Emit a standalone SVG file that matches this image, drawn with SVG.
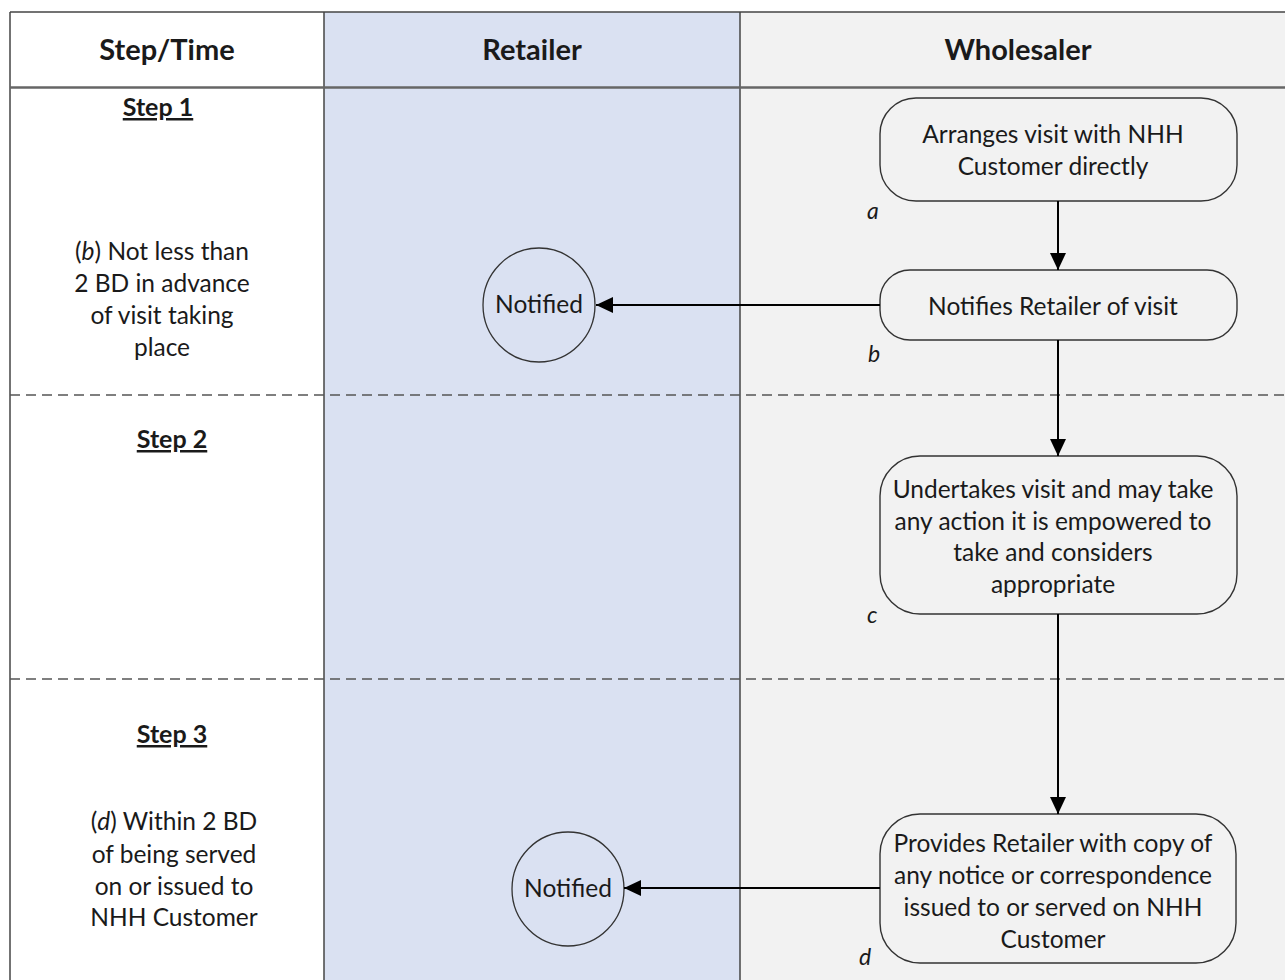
<svg xmlns="http://www.w3.org/2000/svg" width="1285" height="980" viewBox="0 0 1285 980">
<defs>
<marker id="arr" viewBox="0 0 17 16" refX="17" refY="8" markerWidth="17" markerHeight="16" markerUnits="userSpaceOnUse" orient="auto">
<path d="M0,0 L17,8 L0,16 z" fill="#000"/>
</marker>
<style>
text{font-family:Lato,"Liberation Sans",sans-serif;fill:#1a1a1a;}
.hd{font-size:29px;font-weight:bold;text-anchor:middle;}
.st{font-size:25px;font-weight:bold;text-anchor:middle;text-decoration:underline;}
.tx{font-size:24.5px;text-anchor:middle;}
.lb{font-size:23px;font-style:italic;}
.box{fill:#f2f2f2;stroke:#333;stroke-width:1.4;}
.circ{fill:#dae1f2;stroke:#333;stroke-width:1.3;}
.grid{stroke:#444;stroke-width:1.5;fill:none;}
.dash{stroke:#555;stroke-width:1.5;stroke-dasharray:10 6;fill:none;}
.con{stroke:#000;stroke-width:2;fill:none;marker-end:url(#arr);}
</style>
</defs>
<rect x="0" y="0" width="1285" height="980" fill="#fff"/>
<g id="lanes">
<rect x="10" y="12" width="314" height="968" fill="#fff"/>
<rect x="324" y="12" width="416" height="968" fill="#dae1f2"/>
<rect x="740" y="12" width="545" height="968" fill="#f2f2f2"/>
<line class="grid" x1="10" y1="12" x2="1285" y2="12"/>
<line class="grid" x1="10" y1="12" x2="10" y2="980"/>
<line class="grid" x1="324" y1="12" x2="324" y2="980"/>
<line class="grid" x1="740" y1="12" x2="740" y2="980"/>
<line x1="10" y1="87.5" x2="1285" y2="87.5" stroke="#666" stroke-width="2.5"/>
<line class="dash" x1="10" y1="395" x2="1285" y2="395"/>
<line class="dash" x1="10" y1="679" x2="1285" y2="679"/>
<text class="hd" x="167" y="60">Step/Time</text>
<text class="hd" x="532" y="60">Retailer</text>
<text class="hd" x="1018" y="60">Wholesaler</text>
</g>
<g id="steps">
<text class="st" x="158" y="116">Step 1</text>
<text class="tx" x="162" y="260">(<tspan font-style="italic">b</tspan>) Not less than</text>
<text class="tx" x="162" y="292">2 BD in advance</text>
<text class="tx" x="162" y="324">of visit taking</text>
<text class="tx" x="162" y="356">place</text>
<text class="st" x="172" y="448">Step 2</text>
<text class="st" x="172" y="743">Step 3</text>
<text class="tx" x="174" y="830">(<tspan font-style="italic">d</tspan>) Within 2 BD</text>
<text class="tx" x="174" y="863">of being served</text>
<text class="tx" x="174" y="895">on or issued to</text>
<text class="tx" x="174" y="926">NHH Customer</text>
</g>
<g id="node-a">
<rect class="box" x="880" y="98" width="357" height="103" rx="36" ry="36"/>
<text class="tx" x="1053" y="143">Arranges visit with NHH</text>
<text class="tx" x="1053" y="175">Customer directly</text>
<text class="lb" x="867" y="219">a</text>
</g>
<g id="node-b">
<rect class="box" x="880" y="270" width="357" height="70" rx="30" ry="30"/>
<text class="tx" x="1053" y="315">Notifies Retailer of visit</text>
<text class="lb" x="868" y="362">b</text>
</g>
<g id="node-c">
<rect class="box" x="880" y="456" width="357" height="158" rx="40" ry="40"/>
<text class="tx" x="1053" y="498">Undertakes visit and may take</text>
<text class="tx" x="1053" y="530">any action it is empowered to</text>
<text class="tx" x="1053" y="561">take and considers</text>
<text class="tx" x="1053" y="593">appropriate</text>
<text class="lb" x="867" y="623">c</text>
</g>
<g id="node-d">
<rect class="box" x="880" y="814" width="356" height="149" rx="40" ry="40"/>
<text class="tx" x="1053" y="852">Provides Retailer with copy of</text>
<text class="tx" x="1053" y="884">any notice or correspondence</text>
<text class="tx" x="1053" y="916">issued to or served on NHH</text>
<text class="tx" x="1053" y="948">Customer</text>
<text class="lb" x="859" y="965">d</text>
</g>
<g id="notified-1">
<ellipse class="circ" cx="539" cy="305" rx="56" ry="57"/>
<text class="tx" x="539" y="313">Notified</text>
</g>
<g id="notified-2">
<ellipse class="circ" cx="568" cy="889" rx="56" ry="57"/>
<text class="tx" x="568" y="897">Notified</text>
</g>
<g id="connectors">
<line class="con" x1="1058" y1="201" x2="1058" y2="270"/>
<line class="con" x1="1058" y1="340" x2="1058" y2="456"/>
<line class="con" x1="1058" y1="614" x2="1058" y2="814"/>
<line class="con" x1="880" y1="305" x2="596" y2="305"/>
<line class="con" x1="880" y1="888" x2="624" y2="888"/>
</g>
</svg>
